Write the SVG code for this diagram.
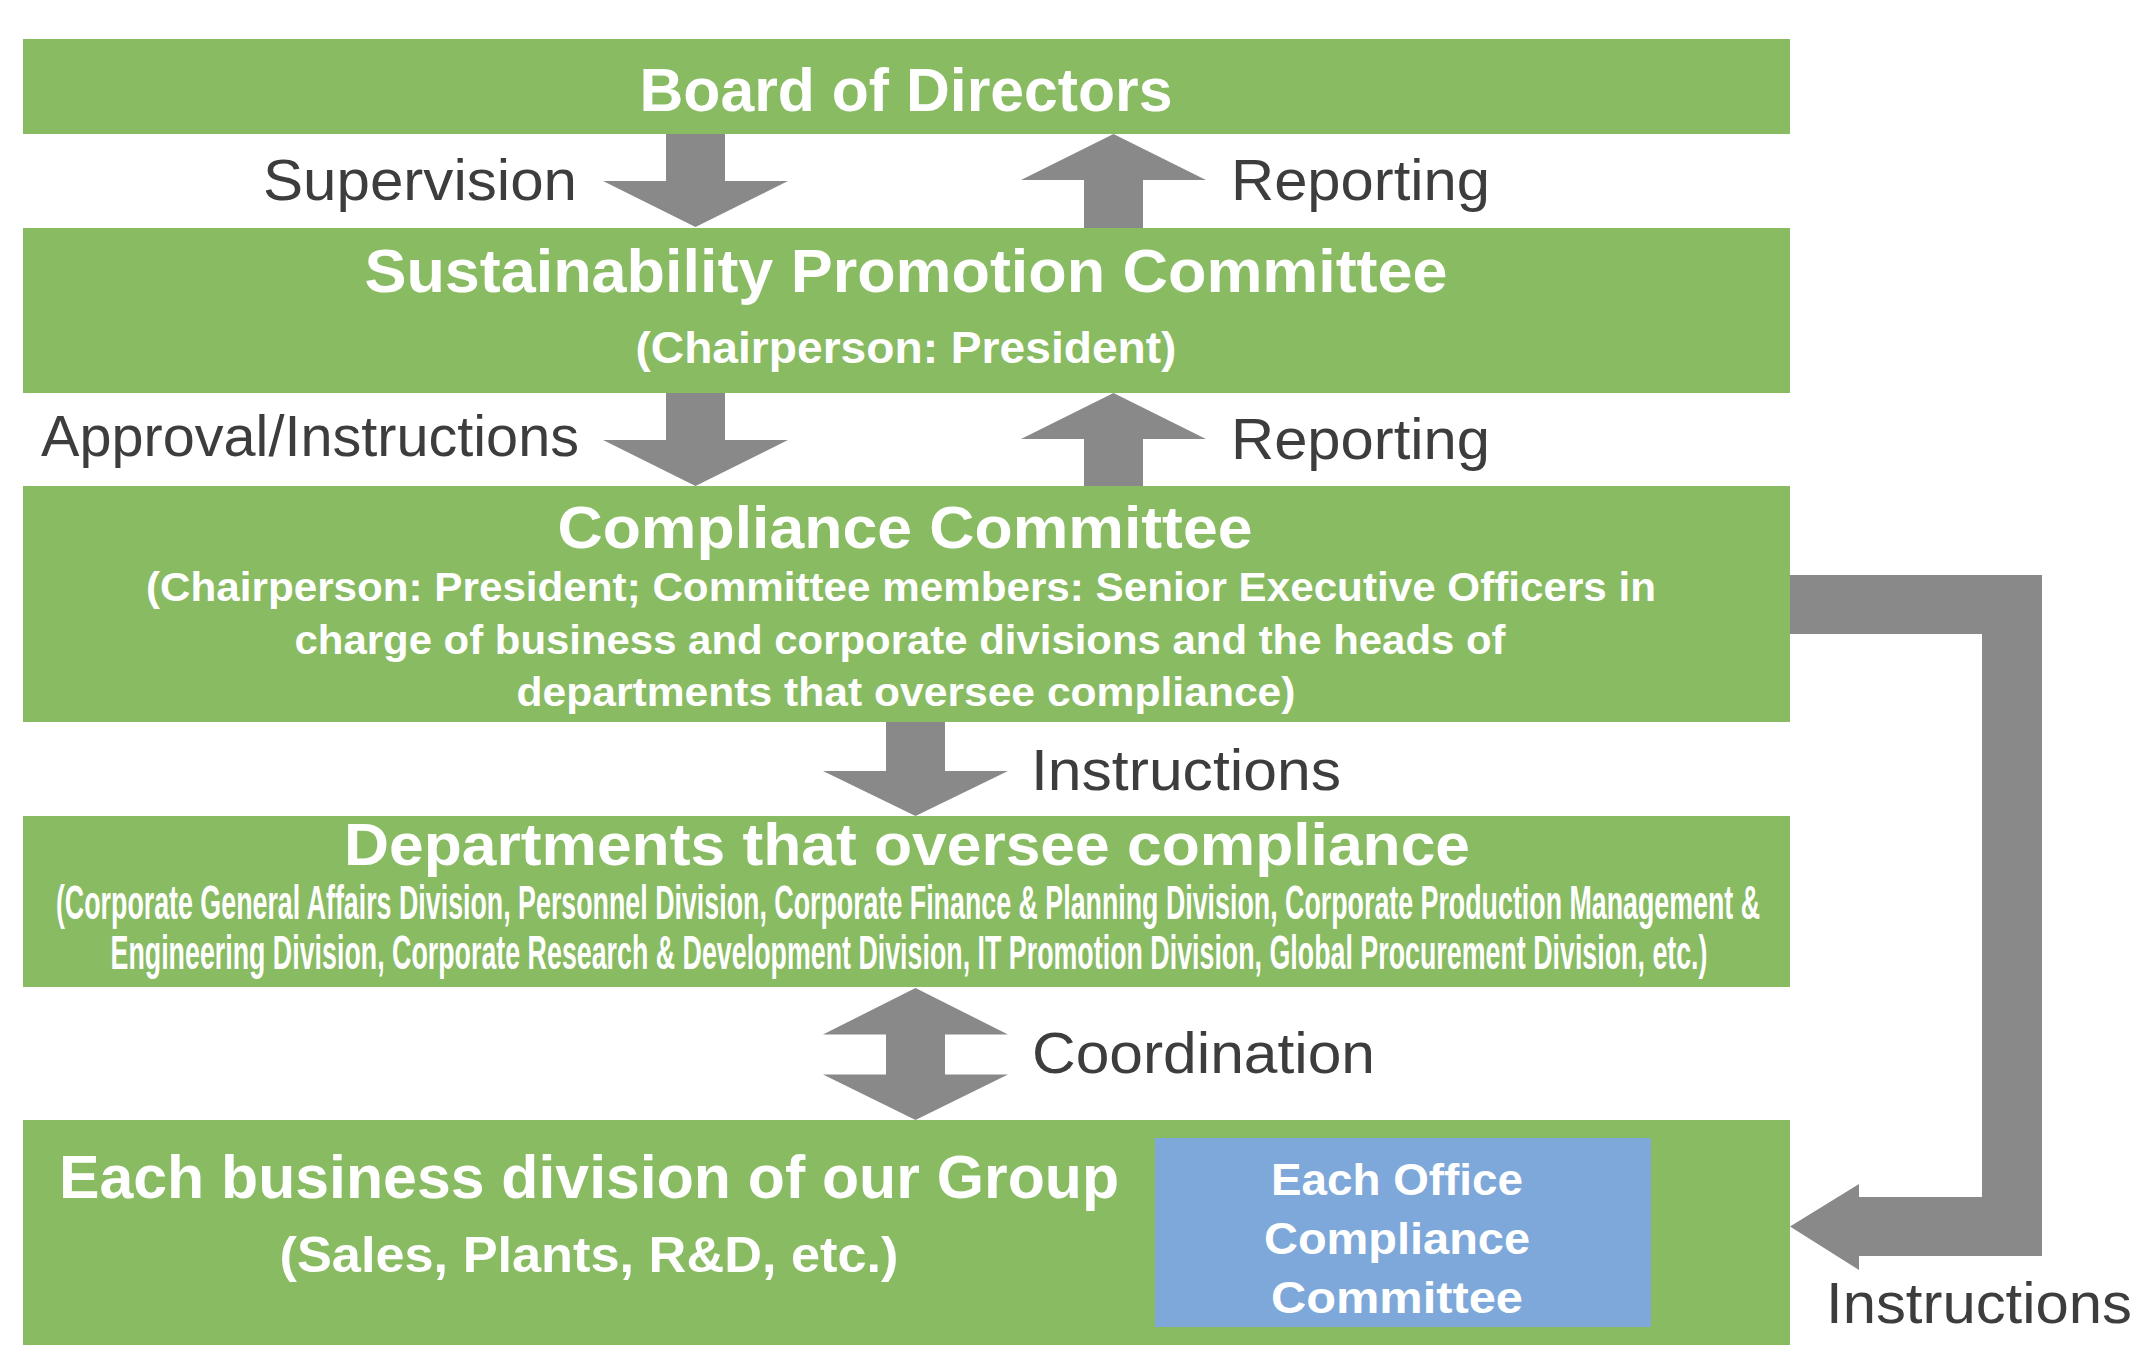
<svg xmlns="http://www.w3.org/2000/svg" width="2134" height="1372" viewBox="0 0 2134 1372">
<style>
.box{fill:#89bb63}
.blue{fill:#7da8d9}
.arr{fill:#898989}
text{font-family:"Liberation Sans",Arial,sans-serif}
.t{fill:#ffffff;font-weight:bold;text-anchor:middle}
.lbl{fill:#3d3d3d;font-size:57px}
</style>
<rect width="2134" height="1372" fill="#ffffff"/>
<g id="connectors">
  <polygon id="c-supervision" class="arr" points="666,134 725,134 725,181 788,181 695.5,227 603,181 666,181"/>
  <polygon id="c-reporting1" class="arr" points="1084,228 1143,228 1143,180 1206,180 1113.5,134 1021,180 1084,180"/>
  <polygon id="c-approval" class="arr" points="666,393 725,393 725,440 788,440 695.5,486 603,440 666,440"/>
  <polygon id="c-reporting2" class="arr" points="1084,486 1143,486 1143,439 1206,439 1113.5,393 1021,439 1084,439"/>
  <polygon id="c-instructions" class="arr" points="886,722 945,722 945,771 1008,771 915.5,816 823,771 886,771"/>
  <polygon id="c-coordination" class="arr" points="915.5,988 1008,1034.5 945,1034.5 945,1074.5 1008,1074.5 915.5,1120 823,1074.5 886,1074.5 886,1034.5 823,1034.5"/>
  <polygon id="c-instructions2" class="arr" points="1790,575 2042,575 2042,1256 1859,1256 1859,1270 1790,1226.5 1859,1184 1859,1197 1982,1197 1982,634 1790,634"/>
  <text class="lbl" x="577" y="200" text-anchor="end" textLength="314" lengthAdjust="spacingAndGlyphs">Supervision</text>
  <text class="lbl" x="1231" y="200" textLength="259" lengthAdjust="spacingAndGlyphs">Reporting</text>
  <text class="lbl" x="579" y="456" text-anchor="end" textLength="538" lengthAdjust="spacingAndGlyphs">Approval/Instructions</text>
  <text class="lbl" x="1231" y="459" textLength="259" lengthAdjust="spacingAndGlyphs">Reporting</text>
  <text class="lbl" x="1031" y="790" textLength="310" lengthAdjust="spacingAndGlyphs">Instructions</text>
  <text class="lbl" x="1032" y="1073" textLength="343" lengthAdjust="spacingAndGlyphs">Coordination</text>
  <text class="lbl" x="1826" y="1323" textLength="306" lengthAdjust="spacingAndGlyphs">Instructions</text>
</g>
<g id="board">
  <rect class="box" x="23" y="39" width="1767" height="95"/>
  <text class="t" x="906" y="111" font-size="61" textLength="533" lengthAdjust="spacingAndGlyphs">Board of Directors</text>
</g>
<g id="sustainability">
  <rect class="box" x="23" y="228" width="1767" height="165"/>
  <text class="t" x="906" y="292" font-size="61" textLength="1083" lengthAdjust="spacingAndGlyphs">Sustainability Promotion Committee</text>
  <text class="t" x="906" y="363" font-size="44" textLength="541" lengthAdjust="spacingAndGlyphs">(Chairperson: President)</text>
</g>
<g id="compliance">
  <rect class="box" x="23" y="486" width="1767" height="236"/>
  <text class="t" x="905" y="548" font-size="59" textLength="695" lengthAdjust="spacingAndGlyphs">Compliance Committee</text>
  <text class="t" x="901" y="601" font-size="41" textLength="1510" lengthAdjust="spacingAndGlyphs">(Chairperson: President; Committee members: Senior Executive Officers in</text>
  <text class="t" x="900" y="654" font-size="41" textLength="1211" lengthAdjust="spacingAndGlyphs">charge of business and corporate divisions and the heads of</text>
  <text class="t" x="906" y="706" font-size="41" textLength="779" lengthAdjust="spacingAndGlyphs">departments that oversee compliance)</text>
</g>
<g id="departments">
  <rect class="box" x="23" y="816" width="1767" height="171"/>
  <text class="t" x="907" y="865" font-size="60" textLength="1126" lengthAdjust="spacingAndGlyphs">Departments that oversee compliance</text>
  <text class="t" transform="translate(908 919) scale(0.558 1)" x="0" y="0" font-size="48" textLength="3054" lengthAdjust="spacingAndGlyphs">(Corporate General Affairs Division, Personnel Division, Corporate Finance &amp; Planning Division, Corporate Production Management &amp;</text>
  <text class="t" transform="translate(909 969) scale(0.558 1)" x="0" y="0" font-size="48" textLength="2862" lengthAdjust="spacingAndGlyphs">Engineering Division, Corporate Research &amp; Development Division, IT Promotion Division, Global Procurement Division, etc.)</text>
</g>
<g id="business">
  <rect class="box" x="23" y="1120" width="1767" height="225"/>
  <text class="t" x="589" y="1198" font-size="61" textLength="1060" lengthAdjust="spacingAndGlyphs">Each business division of our Group</text>
  <text class="t" x="589" y="1272" font-size="50" textLength="619" lengthAdjust="spacingAndGlyphs">(Sales, Plants, R&amp;D, etc.)</text>
</g>
<g id="office">
  <rect class="blue" x="1155" y="1138" width="496" height="189"/>
  <text class="t" x="1397" y="1195" font-size="45" textLength="252" lengthAdjust="spacingAndGlyphs">Each Office</text>
  <text class="t" x="1397" y="1254" font-size="45" textLength="266" lengthAdjust="spacingAndGlyphs">Compliance</text>
  <text class="t" x="1397" y="1313" font-size="45" textLength="252" lengthAdjust="spacingAndGlyphs">Committee</text>
</g>
</svg>
